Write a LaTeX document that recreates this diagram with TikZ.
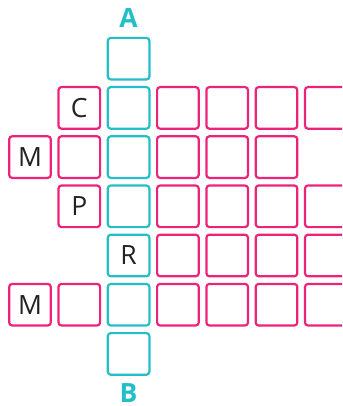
\documentclass[tikz,border=0pt]{standalone}
\usepackage{fontspec}
\setmainfont{Open Sans}
\definecolor{pinkc}{RGB}{236,36,121}
\definecolor{cyanc}{RGB}{36,190,200}
\definecolor{inkc}{RGB}{34,34,34}
\tikzset{
  cell/.style={draw, line width=2.2pt, rounded corners=3pt, minimum size=41.6pt, inner sep=0pt,
    font=\fontsize{26.5}{30}\selectfont, text=inkc},
  pcell/.style={cell, draw=pinkc},
  ccell/.style={cell, draw=cyanc},
  lab/.style={anchor=base, inner sep=0pt, text=cyanc, font=\fontsize{26.5}{30}\selectfont\bfseries}
}
\begin{document}
\begin{tikzpicture}[x=1pt,y=-1pt]
\useasboundingbox (0,0) rectangle (342,406);
\clip (0,0) rectangle (342,406);
% column centres: 30 + 49.3 c ; row centres: 58.7 + 49.2 r
% cyan column
\foreach \r in {0,...,6} {
  \node[ccell] (c\r-2) at (128.6, 58.7+49.2*\r) {};
}
\node at (c4-2) {\fontsize{26.5}{30}\selectfont\color{inkc}R};
% row 1
\node[pcell] (c1-1) at (79.3,107.9) {C};
\foreach \c in {3,...,6} { \node[pcell] (c1-\c) at (30+49.3*\c,107.9) {}; }
% row 2
\node[pcell] (c2-0) at (30,157.1) {M};
\node[pcell] (c2-1) at (79.3,157.1) {};
\foreach \c in {3,...,5} { \node[pcell] (c2-\c) at (30+49.3*\c,157.1) {}; }
% row 3
\node[pcell] (c3-1) at (79.3,206.3) {P};
\foreach \c in {3,...,6} { \node[pcell] (c3-\c) at (30+49.3*\c,206.3) {}; }
% row 4
\foreach \c in {3,...,6} { \node[pcell] (c4-\c) at (30+49.3*\c,255.5) {}; }
% row 5
\node[pcell] (c5-0) at (30,304.7) {M};
\node[pcell] (c5-1) at (79.3,304.7) {};
\foreach \c in {3,...,6} { \node[pcell] (c5-\c) at (30+49.3*\c,304.7) {}; }
% labels
\node[lab] (labA) at (128.6,28) {A};
\node[lab] (labB) at (128.6,402.5) {B};
\end{tikzpicture}
\end{document}
